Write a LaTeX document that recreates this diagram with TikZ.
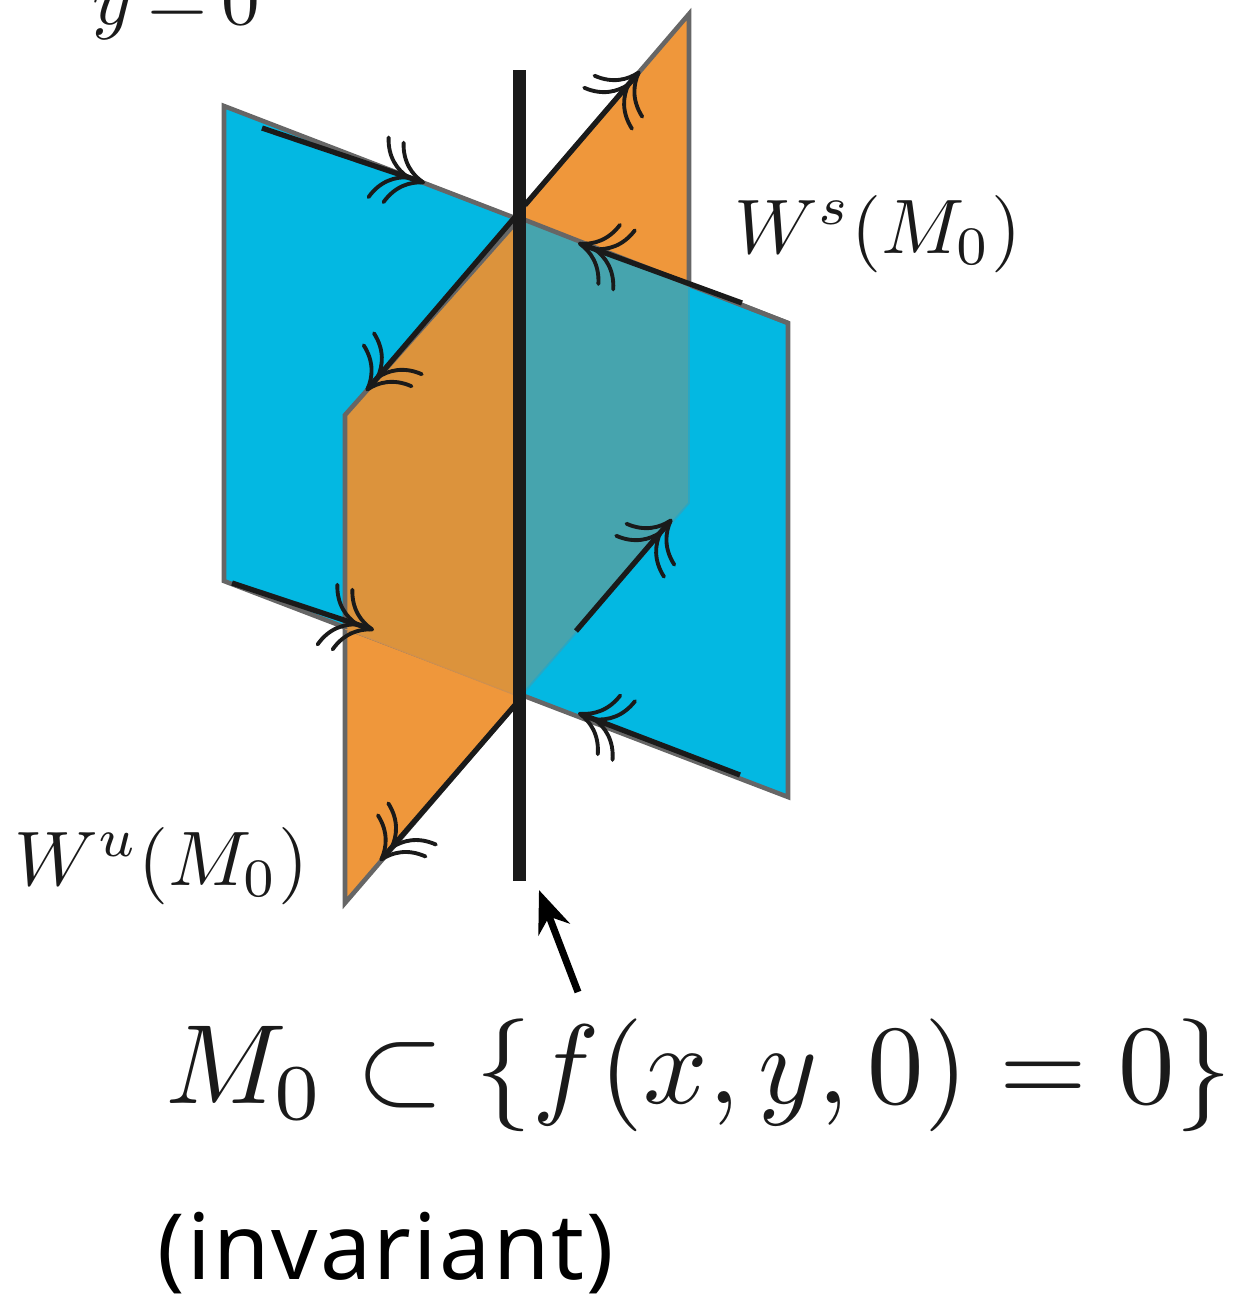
\documentclass[tikz,border=0pt]{standalone}
\usepackage{amsmath}
\usepackage{fontspec}
\usetikzlibrary{arrows.meta}
\newfontfamily\captionfont[LetterSpace=2.4]{Noto Sans}
\definecolor{bluesheet}{HTML}{03B8E2}
\definecolor{orangesheet}{HTML}{EF973B}
\definecolor{orangeover}{HTML}{DC933C}
\definecolor{tealover}{HTML}{46A4AE}
\definecolor{edgegray}{HTML}{666666}
\definecolor{axisblack}{HTML}{1A1A1A}
\tikzset{
    flowtip/.tip={Computer Modern Rightarrow[length=20pt, width=38pt, line width=2.2pt, sep=-11pt] Computer Modern Rightarrow[length=20pt, width=38pt, line width=2.2pt]},
    flow/.style={-{flowtip}, line width=3pt, axisblack},
    sheet/.style={draw=edgegray, line width=2.6pt, line join=miter},
    mathlabel/.style={scale=4.4, inner sep=0pt, anchor=base west, text=axisblack},
}

\begin{document}
\begin{tikzpicture}[x=0.02cm, y=-0.02cm]
        \useasboundingbox (0, 0) rectangle (1249, 1299);

        % Corners of the sheets
        \coordinate (B1) at (224, 106);
        \coordinate (B2) at (788, 323);
        \coordinate (B3) at (788, 797);
        \coordinate (B4) at (224, 581);
        \coordinate (O1) at (689, 14);
        \coordinate (O2) at (689, 503);
        \coordinate (O3) at (345, 903);
        \coordinate (O4) at (345, 415);
        \coordinate (Ptop) at (520, 218);
        \coordinate (Pbot) at (520, 697);
        \coordinate (Pleft) at (345, 629);
        \coordinate (Pright) at (689, 287);

        % Sheets
        \filldraw[sheet, fill=orangesheet] (O1) -- (O2) -- (O3) -- (O4) -- cycle;
        \filldraw[sheet, fill=bluesheet] (B1) -- (B2) -- (B3) -- (B4) -- cycle;
        \fill[orangeover] (O4) -- (Ptop) -- (Pbot) -- (Pleft) -- cycle;
        \fill[tealover] (Ptop) -- (Pright) -- (O2) -- (Pbot) -- cycle;
        \draw[line width=0.6pt, orangesheet!70!gray] (Pleft) -- (Pbot);
        \draw[line width=1pt, bluesheet!70!gray] (Pright) -- (O2) -- (Pbot);
        \draw[sheet] (Ptop) -- (O4) -- (Pleft);
        \draw[sheet] (Ptop) -- (B2);

        % Flow arrows
        \coordinate (a1) at (262, 128);
        \coordinate (a2) at (425, 183);
        \coordinate (b1) at (525, 205);
        \coordinate (b2) at (640, 71);
        \coordinate (c1) at (742, 303);
        \coordinate (c2) at (578, 243);
        \coordinate (d1) at (515, 217);
        \coordinate (d2) at (366, 391);
        \coordinate (e1) at (232, 583);
        \coordinate (e2) at (374, 630);
        \coordinate (f1) at (576, 631);
        \coordinate (f2) at (672, 519);
        \coordinate (g1) at (740, 775);
        \coordinate (g2) at (578, 713);
        \coordinate (h1) at (515, 705);
        \coordinate (h2) at (380, 861);
        \draw[flow] (a1) -- (a2);
        \draw[flow] (b1) -- (b2);
        \draw[flow] (c1) -- (c2);
        \draw[flow] (d1) -- (d2);
        \draw[flow] (e1) -- (e2);
        \draw[flow] (f1) -- (f2);
        \draw[flow] (g1) -- (g2);
        \draw[flow] (h1) -- (h2);

        % Invariant line
        \coordinate (axistop) at (519, 70);
        \coordinate (axisbot) at (519, 881);
        \draw[line width=7.4pt, axisblack] (axistop) -- (axisbot);

        % Labels
        \node[mathlabel] (ylabel) at (91, 24) {$y\mkern-1.7mu=\mkern-1.7mu 0$};
        \node[mathlabel] (wslabel) at (733, 253) {$W^s(M_0)$};
        \node[mathlabel] (wulabel) at (13, 885) {$W^u(M_0)$};
        \node[mathlabel, scale=1.46] (mlabel) at (163, 1103) {$M_0\subset\{f(x,y,0)=0\}$};
        \node[scale=5.2, inner sep=0pt, anchor=base west, font=\captionfont] (invlabel) at (156, 1279) {(invariant)};

        % Pointer
        \coordinate (ptail) at (578, 992);
        \coordinate (phead) at (539, 890);
        \draw[-{Stealth[length=24pt, width=19pt]}, line width=4pt] (ptail) -- (phead);
    \end{tikzpicture}
\end{document}
